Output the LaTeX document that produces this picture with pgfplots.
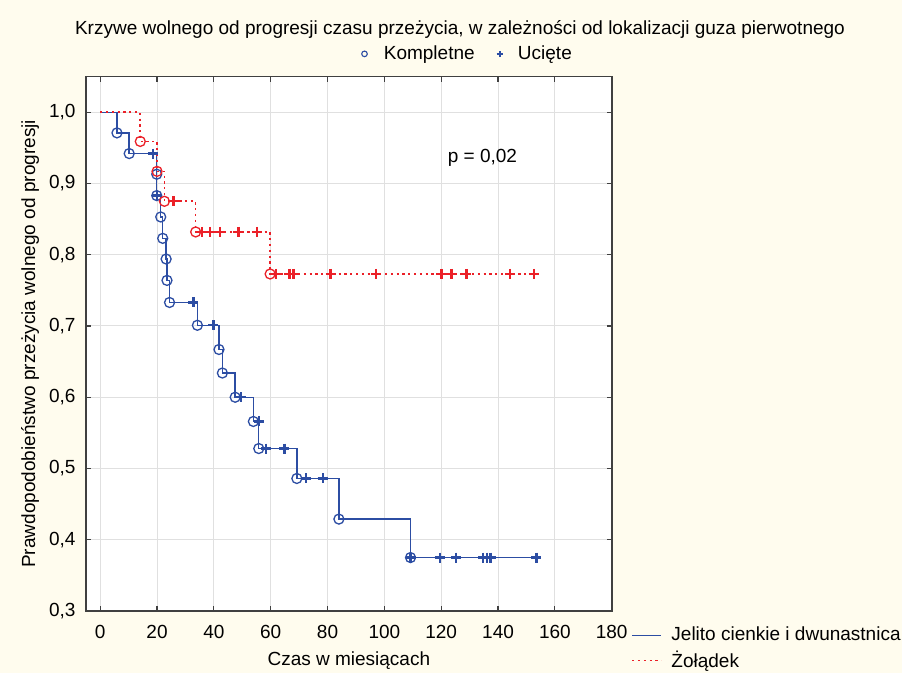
\documentclass[border=0pt]{standalone}
\usepackage{fontspec}
\setmainfont{Liberation Sans}
\usepackage{pgfplots}
\pgfplotsset{compat=1.18}
\definecolor{bgc}{RGB}{255,252,238}
\definecolor{blueC}{RGB}{44,77,163}
\definecolor{redC}{RGB}{235,32,40}
\definecolor{gridC}{RGB}{224,224,224}
\definecolor{frameC}{RGB}{64,64,64}
\begin{document}
\fontsize{19}{23}\selectfont
\begin{tikzpicture}
\fill[bgc] (0,0) rectangle (902pt,673pt);
\begin{axis}[
  at={(86pt,62pt)}, anchor=south west,
  scale only axis, width=525.7pt, height=534.4pt,
  xmin=-5, xmax=180, ymin=0.3, ymax=1.05,
  axis background/.style={fill=white},
  xtick={0,20,40,60,80,100,120,140,160,180},
  ytick={0.3,0.4,0.5,0.6,0.7,0.8,0.9,1.0},
  /pgf/number format/assume math mode=true,
  yticklabel style={/pgf/number format/fixed, /pgf/number format/fixed zerofill,
    /pgf/number format/precision=1, /pgf/number format/use comma, xshift=-4pt},
  xticklabel style={yshift=-8pt},
  grid=major,
  major grid style={gridC, line width=1pt},
  tick style={frameC, line width=1.2pt},
  major tick length=5pt, tick align=inside,
  axis line style={frameC, line width=1.6pt},
  xlabel={Czas w miesiącach},
  ylabel={Prawdopodobieństwo przeżycia wolnego od progresji},
  xlabel style={at={(axis description cs:0.5,-0.0936)}, anchor=center},
  ylabel style={at={(axis description cs:-0.1065,0.5)}, anchor=center},
  legend style={at={(axis description cs:1.037,-0.024)}, anchor=north west, draw=none, fill=none,
    inner sep=0pt, row sep=1pt, column sep=6.5pt, nodes={inner sep=3pt, anchor=west}},
  legend cell align=left,
  legend image code/.code={\draw[#1] (0pt,0pt) -- (29pt,0pt);},
]
% Jelito cienkie i dwunastnica
\addplot[const plot, blueC, line width=1.4pt, mark=none] coordinates {
(0,1.0) (5.9,0.971) (10.2,0.942) (19.9,0.913) (19.9,0.883) (21.3,0.853) (22.0,0.823)
(23.2,0.794) (23.5,0.764) (24.4,0.733) (34.2,0.701) (41.8,0.667) (43.0,0.634) (47.5,0.600)
(53.9,0.566) (55.8,0.528) (69.2,0.486) (84.0,0.429) (109.2,0.375) (153.5,0.375)};
\addlegendentry{Jelito cienkie i dwunastnica}
% Zoladek
\addplot[const plot, redC, line width=1.6pt, dash pattern=on 2.2pt off 3.6pt, mark=none] coordinates {
(0,1.0) (14.1,0.959) (20.0,0.917) (22.6,0.875) (33.6,0.832) (59.8,0.773) (152.6,0.773)};
\addlegendentry{Żołądek}
% blue events
\addplot[only marks, mark=o, mark size=5pt, blueC, line width=1.3pt, forget plot] coordinates {
(5.9,0.971) (10.2,0.942) (19.9,0.913) (19.9,0.883) (21.3,0.853) (22.0,0.823)
(23.2,0.794) (23.5,0.764) (24.4,0.733) (34.2,0.701) (41.8,0.667) (43.0,0.634) (47.5,0.600)
(53.9,0.566) (55.8,0.528) (69.2,0.486) (84.0,0.429) (109.2,0.375)};
% blue censored
\addplot[only marks, mark=+, mark size=5pt, blueC, line width=2.4pt, forget plot] coordinates {
(18.5,0.942) (19.9,0.883) (32.8,0.733) (39.8,0.701) (49.5,0.600) (55.9,0.566) (58.4,0.528)
(64.8,0.528) (72.4,0.486) (78.3,0.486) (109.2,0.375) (119.5,0.375) (125.2,0.375)
(134.8,0.375) (136.2,0.375) (137.4,0.375) (153.5,0.375)};
% red events
\addplot[only marks, mark=o, mark size=5pt, redC, line width=1.3pt, forget plot] coordinates {
(14.1,0.959) (20.0,0.917) (22.6,0.875) (33.6,0.832) (59.8,0.773)};
% red censored
\addplot[only marks, mark=+, mark size=5pt, redC, line width=2.4pt, forget plot] coordinates {
(25.8,0.875) (35.8,0.832) (38.7,0.832) (42.2,0.832) (48.6,0.832) (55.1,0.832)
(61.9,0.773) (66.6,0.773) (68.0,0.773) (81.1,0.773) (97.0,0.773) (120.1,0.773)
(123.6,0.773) (128.9,0.773) (144.2,0.773) (152.6,0.773)};
\node at (axis cs:134.5,0.936) {p = 0,02};
\end{axis}
\node at (460pt,644pt) {Krzywe wolnego od progresji czasu przeżycia, w zależności od lokalizacji guza pierwotnego};
\node at (466.5pt,618pt) {\tikz[baseline=-0.6ex]\draw[blueC,line width=1.1pt] (0,0) circle (2.8pt);\hspace{16pt}Kompletne\hspace{21pt}\tikz[baseline=-0.6ex]\draw[blueC,line width=1.9pt] (-3.2pt,0)--(3.2pt,0) (0,-3.2pt)--(0,3.2pt);\hspace{14pt}Ucięte};
\pgfresetboundingbox
\path[use as bounding box] (0,0) rectangle (902pt,673pt);
\end{tikzpicture}
\end{document}
